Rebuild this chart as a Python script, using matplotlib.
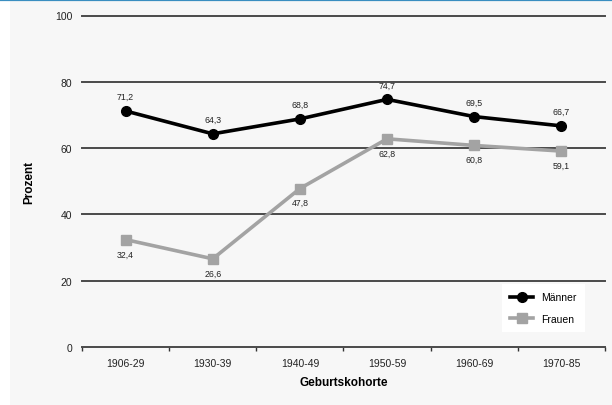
import matplotlib.pyplot as plt
import numpy as np

plt.rcParams['font.family'] = ['Liberation Sans', 'DejaVu Sans']

# Daten
kohorten = ['1906-29', '1930-39', '1940-49', '1950-59', '1960-69', '1970-85']
maenner = [71.2, 64.3, 68.8, 74.7, 69.5, 66.7]
frauen = [32.4, 26.6, 47.8, 62.8, 60.8, 59.1]

bg = '#f7f7f7'
fig = plt.figure(figsize=(6.12, 4.06), dpi=100, facecolor='white')
# grauer Hintergrund und blaue Linie oben
fig.patches.append(plt.Rectangle((10 / 612, 0), 1, 1 - 2 / 406, transform=fig.transFigure,
                                 facecolor=bg, edgecolor='none', zorder=-10))
fig.lines.append(plt.Line2D([0, 1], [1 - 0.8 / 406, 1 - 0.8 / 406], transform=fig.transFigure,
                            color='#3a8ec0', linewidth=1.6, zorder=-5))

ax = fig.add_axes([82 / 612, 1 - 348 / 406, (605 - 82) / 612, (348 - 16.5) / 406])
ax.set_facecolor(bg)

x = np.arange(len(kohorten))
ax.plot(x, maenner, color='black', linewidth=2.6, marker='o', markersize=7, label='Männer', zorder=4)
ax.plot(x, frauen, color='#a3a3a3', linewidth=2.6, marker='s', markersize=6.5, label='Frauen', zorder=3)

for xi, v in zip(x, maenner):
    ax.annotate(f'{v:.1f}'.replace('.', ','), (xi, v), xytext=(0, 7), textcoords='offset points',
                ha='center', va='bottom', fontsize=6.3, color='#222222')
for xi, v in zip(x, frauen):
    ax.annotate(f'{v:.1f}'.replace('.', ','), (xi, v), xytext=(0, -7), textcoords='offset points',
                ha='center', va='top', fontsize=6.3, color='#222222')

ax.set_xlim(-0.5, len(kohorten) - 0.5)
ax.set_ylim(0, 100)
ax.set_yticks([0, 20, 40, 60, 80, 100])
ax.set_xticks(x)
ax.set_xticklabels(kohorten, fontsize=7.5, color='#222222')
ax.set_xticks(np.arange(-0.5, len(kohorten)), minor=True)
ax.tick_params(axis='x', which='major', length=0, pad=8)
ax.tick_params(axis='x', which='minor', length=3, width=1, color='#333333', direction='out')
ax.tick_params(axis='y', length=0, pad=7, labelsize=7.5, labelcolor='#222222')

for y in [20, 40, 60, 80, 100]:
    ax.axhline(y, color='#4a4a4a', linewidth=1.4, zorder=1, clip_on=False)
for s in ['top', 'right', 'left']:
    ax.spines[s].set_visible(False)
ax.spines['bottom'].set_color('#4a4a4a')
ax.spines['bottom'].set_linewidth(1.4)

ax.set_xlabel('Geburtskohorte', fontsize=8.5, fontweight='bold', labelpad=6)
ax.set_ylabel('Prozent', fontsize=8.5, fontweight='bold', labelpad=14)

leg = ax.legend(loc='lower right', bbox_to_anchor=(0.962, 0.045), borderaxespad=0, fontsize=7.5,
                frameon=True, fancybox=False, edgecolor='none', facecolor='white', framealpha=1,
                handlelength=2.2, borderpad=0.8, labelspacing=1.1)

fig.savefig('out.png', dpi=100, facecolor=fig.get_facecolor())
